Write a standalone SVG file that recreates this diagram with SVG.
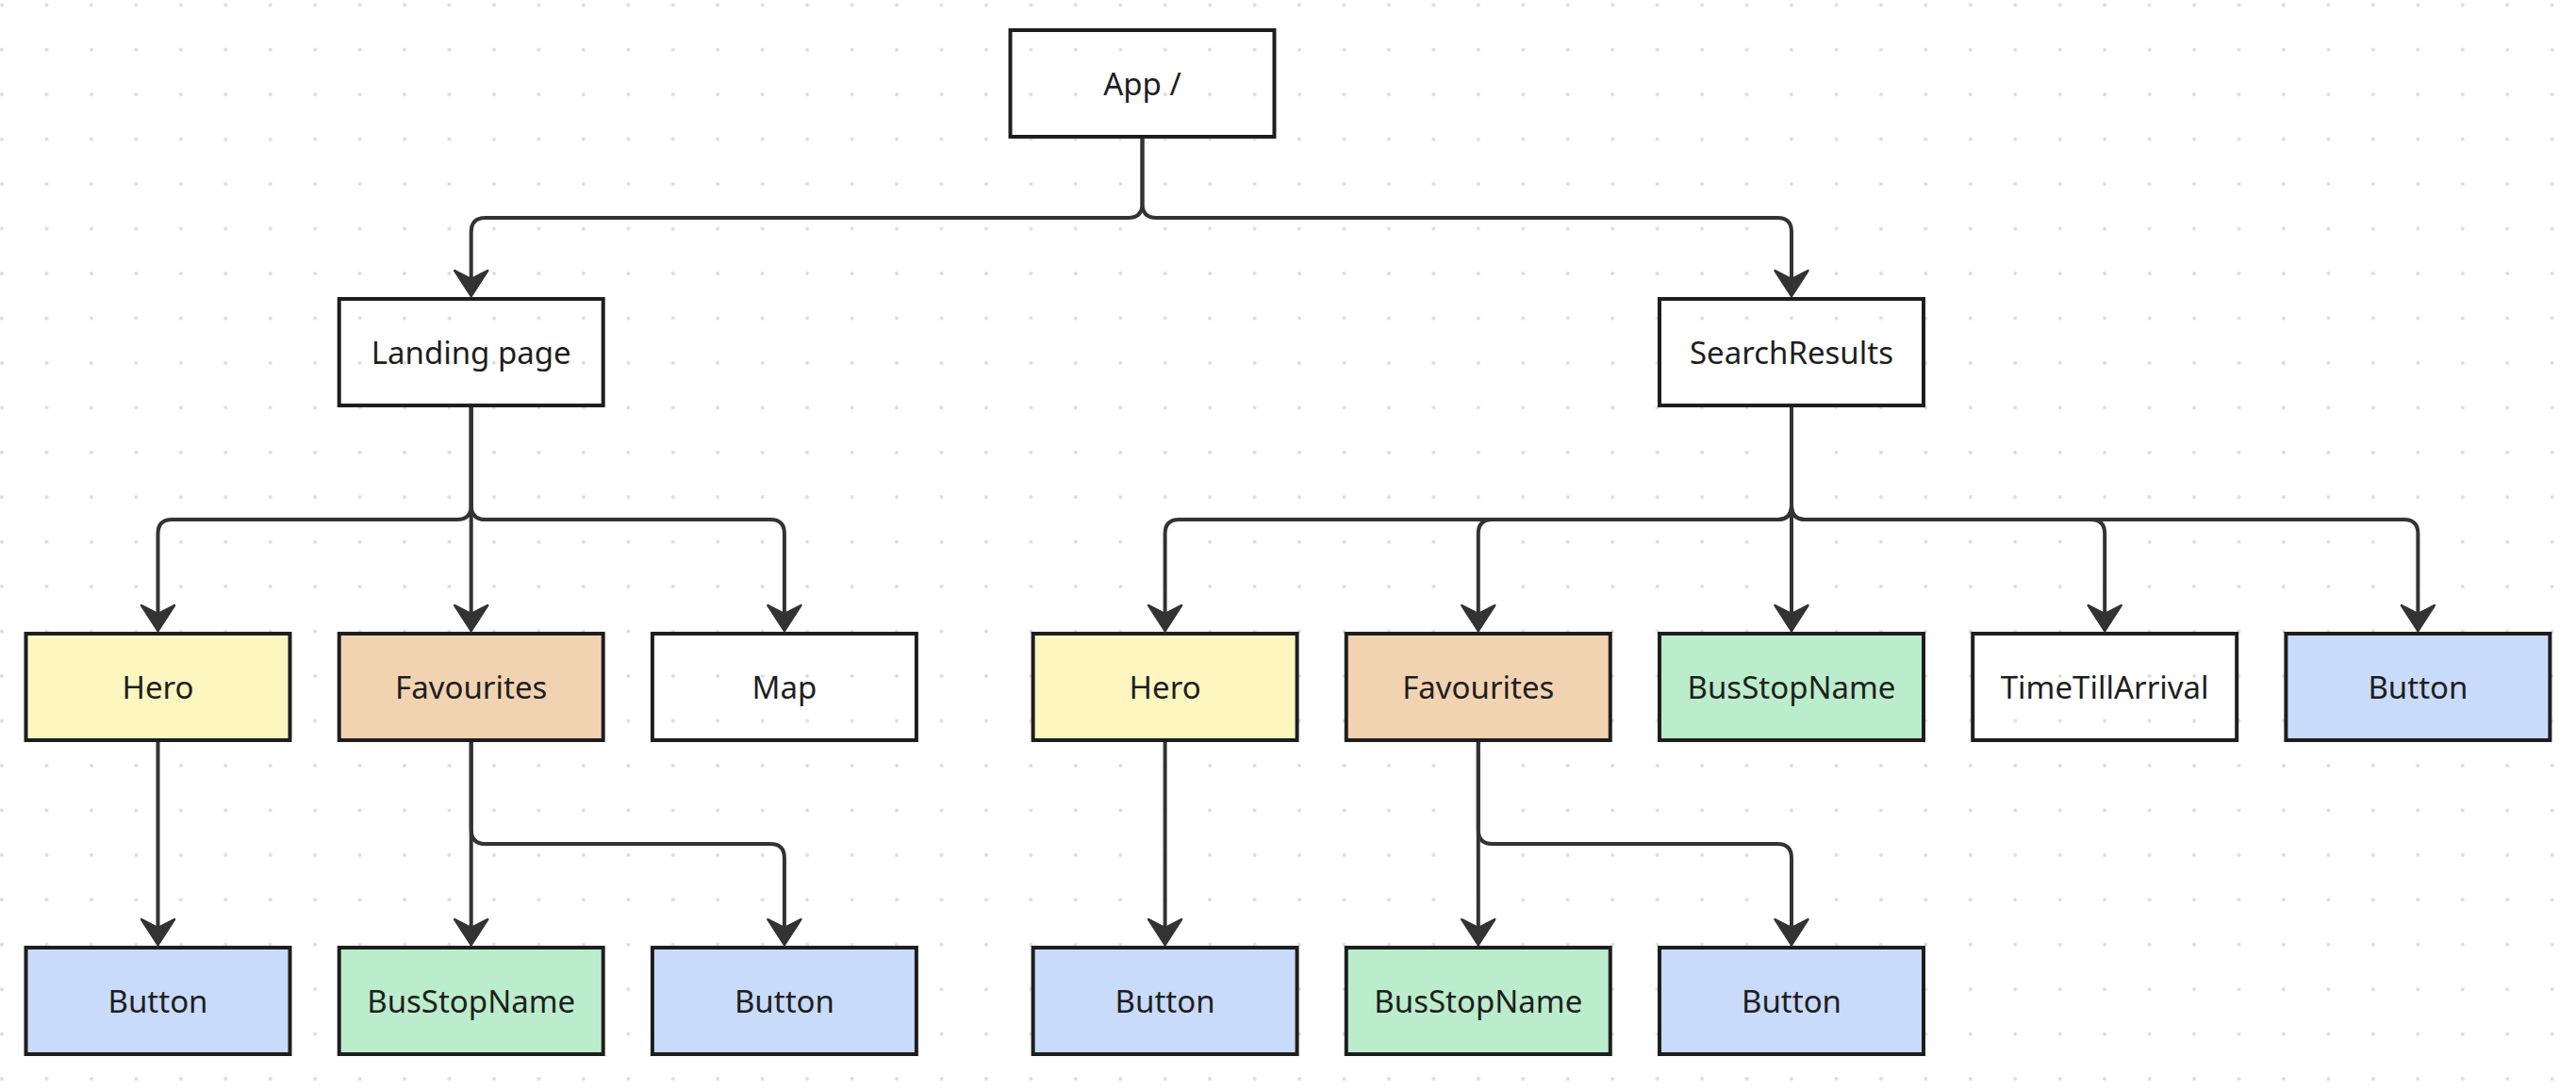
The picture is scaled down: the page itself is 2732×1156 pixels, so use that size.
<svg xmlns="http://www.w3.org/2000/svg" width="2732" height="1156" viewBox="0 0 2732 1156">
<style>
.box{stroke:#1e1e1e;stroke-width:4;fill:none}
.yellow{fill:#fdf6bf}
.peach{fill:#f2d3b1}
.green{fill:#bbedcc}
.blue{fill:#c9dbfa}
.lbl{font-family:"Noto Sans","Open Sans","DejaVu Sans",sans-serif;font-size:33px;fill:#1e1e1e;text-anchor:middle}
.conn{fill:none;stroke:#333333;stroke-width:4;marker-end:url(#arr)}
</style>
<defs>
<pattern id="dots" patternUnits="userSpaceOnUse" x="-21.725" y="-18.425" width="47.45" height="47.45">
<circle cx="23.725" cy="23.725" r="2" fill="#dcdcdc"/>
</pattern>
<marker id="arr" markerUnits="userSpaceOnUse" markerWidth="40" markerHeight="40" refX="0" refY="0" orient="auto" overflow="visible">
<path d="M18,0 L-9,-17.5 L0,0 L-9,17.5 Z" fill="#333333" stroke="#333333" stroke-width="2.5" stroke-linejoin="round"/>
</marker>
</defs>
<rect width="2732" height="1156" fill="#ffffff"/>
<rect width="2732" height="1156" fill="url(#dots)"/>
<g id="connectors">
<path class="conn" d="M1211.5,147 V216 Q1211.5,231 1196.5,231 H514.7 Q499.7,231 499.7,246 V296"/>
<path class="conn" d="M1211.5,147 V216 Q1211.5,231 1226.5,231 H1885 Q1900,231 1900,246 V296"/>
<path class="conn" d="M499.7,432 V536 Q499.7,551 484.7,551 H182.5 Q167.5,551 167.5,566 V651"/>
<path class="conn" d="M499.7,432 V651"/>
<path class="conn" d="M499.7,432 V536 Q499.7,551 514.7,551 H816.9 Q831.9,551 831.9,566 V651"/>
<path class="conn" d="M167.5,787 V984"/>
<path class="conn" d="M499.7,787 V984"/>
<path class="conn" d="M499.7,787 V880 Q499.7,895 514.7,895 H816.9 Q831.9,895 831.9,910 V984"/>
<path class="conn" d="M1900,432 V536 Q1900,551 1885,551 H1250.6 Q1235.6,551 1235.6,566 V651"/>
<path class="conn" d="M1900,432 V536 Q1900,551 1885,551 H1582.8 Q1567.8,551 1567.8,566 V651"/>
<path class="conn" d="M1900,432 V651"/>
<path class="conn" d="M1900,432 V536 Q1900,551 1915,551 H2217.2 Q2232.2,551 2232.2,566 V651"/>
<path class="conn" d="M1900,432 V536 Q1900,551 1915,551 H2549.4 Q2564.4,551 2564.4,566 V651"/>
<path class="conn" d="M1235.6,787 V984"/>
<path class="conn" d="M1567.8,787 V984"/>
<path class="conn" d="M1567.8,787 V880 Q1567.8,895 1582.8,895 H1885 Q1900,895 1900,910 V984"/>
</g>
<g id="app"><rect class="box" x="1071.5" y="32" width="280" height="113"/><text class="lbl" x="1211.5" y="101">App /</text></g>
<g id="landing"><rect class="box" x="359.7" y="317" width="280" height="113"/><text class="lbl" x="499.7" y="386">Landing page</text></g>
<g id="search"><rect class="box" x="1760" y="317" width="280" height="113"/><text class="lbl" x="1900" y="386">SearchResults</text></g>
<g id="hero1"><rect class="box yellow" x="27.5" y="672" width="280" height="113"/><text class="lbl" x="167.5" y="741">Hero</text></g>
<g id="fav1"><rect class="box peach" x="359.7" y="672" width="280" height="113"/><text class="lbl" x="499.7" y="741">Favourites</text></g>
<g id="map"><rect class="box" x="691.9" y="672" width="280" height="113"/><text class="lbl" x="831.9" y="741">Map</text></g>
<g id="hero2"><rect class="box yellow" x="1095.6" y="672" width="280" height="113"/><text class="lbl" x="1235.6" y="741">Hero</text></g>
<g id="fav2"><rect class="box peach" x="1427.8" y="672" width="280" height="113"/><text class="lbl" x="1567.8" y="741">Favourites</text></g>
<g id="busstop2"><rect class="box green" x="1760" y="672" width="280" height="113"/><text class="lbl" x="1900" y="741">BusStopName</text></g>
<g id="timetill"><rect class="box" x="2092.2" y="672" width="280" height="113"/><text class="lbl" x="2232.2" y="741">TimeTillArrival</text></g>
<g id="button2"><rect class="box blue" x="2424.4" y="672" width="280" height="113"/><text class="lbl" x="2564.4" y="741">Button</text></g>
<g id="button1"><rect class="box blue" x="27.5" y="1005" width="280" height="113"/><text class="lbl" x="167.5" y="1074">Button</text></g>
<g id="busstop1"><rect class="box green" x="359.7" y="1005" width="280" height="113"/><text class="lbl" x="499.7" y="1074">BusStopName</text></g>
<g id="button1b"><rect class="box blue" x="691.9" y="1005" width="280" height="113"/><text class="lbl" x="831.9" y="1074">Button</text></g>
<g id="button3"><rect class="box blue" x="1095.6" y="1005" width="280" height="113"/><text class="lbl" x="1235.6" y="1074">Button</text></g>
<g id="busstop3"><rect class="box green" x="1427.8" y="1005" width="280" height="113"/><text class="lbl" x="1567.8" y="1074">BusStopName</text></g>
<g id="button4"><rect class="box blue" x="1760" y="1005" width="280" height="113"/><text class="lbl" x="1900" y="1074">Button</text></g>
</svg>
